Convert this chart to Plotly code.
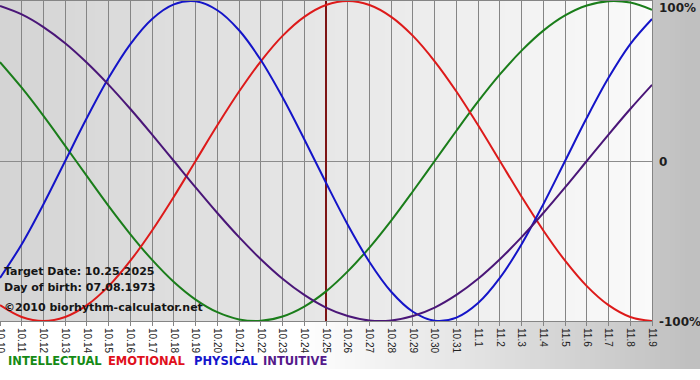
import plotly.graph_objects as go

# ---------------- data ----------------
dates = ["10.10", "10.11", "10.12", "10.13", "10.14", "10.15", "10.16", "10.17",
         "10.18", "10.19", "10.20", "10.21", "10.22", "10.23", "10.24", "10.25",
         "10.26", "10.27", "10.28", "10.29", "10.30", "10.31",
         "11.1", "11.2", "11.3", "11.4", "11.5", "11.6", "11.7", "11.8", "11.9"]

intellectual = [0.618, 0.458, 0.282, 0.095, -0.095, -0.282, -0.458, -0.618,
                -0.756, -0.866, -0.945, -0.990, -0.999, -0.972, -0.910, -0.815,
                -0.690, -0.541, -0.372, -0.189, 0.000, 0.189, 0.372, 0.541,
                0.690, 0.815, 0.910, 0.972, 0.999, 0.990, 0.945]

emotional = [-0.901, -0.975, -1.000, -0.975, -0.901, -0.782, -0.623, -0.434,
             -0.223, 0.000, 0.223, 0.434, 0.623, 0.782, 0.901, 0.975,
             1.000, 0.975, 0.901, 0.782, 0.623, 0.434, 0.223, 0.000,
             -0.223, -0.434, -0.623, -0.782, -0.901, -0.975, -1.000]

physical = [-0.731, -0.520, -0.270, 0.000, 0.270, 0.520, 0.731, 0.888,
            0.979, 0.998, 0.942, 0.817, 0.631, 0.398, 0.136, -0.136,
            -0.398, -0.631, -0.817, -0.942, -0.998, -0.979, -0.888, -0.731,
            -0.520, -0.270, 0.000, 0.270, 0.520, 0.731, 0.888]

intuitive = [0.969, 0.916, 0.837, 0.736, 0.614, 0.476, 0.325, 0.165,
             0.000, -0.165, -0.325, -0.476, -0.614, -0.736, -0.837, -0.916,
             -0.969, -0.997, -0.997, -0.969, -0.916, -0.837, -0.736, -0.614,
             -0.476, -0.325, -0.165, 0.000, 0.165, 0.325, 0.476]

target_date = "10.25"
y_labels = [("100%", 1.0), ("0", 0.0), ("-100%", -1.0)]
info_lines = ["Target Date: 10.25.2025", "Day of birth: 07.08.1973",
              "\u00a92010 biorhythm-calculator.net"]
legend_items = [("INTELLECTUAL", "#158a15"), ("EMOTIONAL", "#e0101c"),
                ("PHYSICAL", "#1515cc"), ("INTUITIVE", "#551a8b")]

series = [("INTELLECTUAL", intellectual, "#1a7d1a"),
          ("EMOTIONAL", emotional, "#dd1a1a"),
          ("PHYSICAL", physical, "#1414c8"),
          ("INTUITIVE", intuitive, "#4a1678")]

# ---------------- layout geometry ----------------
W, H = 700, 380
ML, MR, MT, MB = 0, 48, 1, 59
PW = W - ML - MR          # 652
PH = H - MT - MB          # 320
PLOT_BOTTOM = MT + PH     # 321


def px_x(x):
    return (x - ML) / PW


def px_y(y):
    return (PLOT_BOTTOM - y) / PH


fig = go.Figure()

# target date marker (drawn first so curves sit on top)
fig.add_trace(go.Scatter(x=[target_date, target_date], y=[-1.02, 1.02], mode="lines",
                         line=dict(color="#7d1414", width=2), hoverinfo="skip",
                         showlegend=False))

for name, vals, col in series:
    fig.add_trace(go.Scatter(x=dates, y=vals, mode="lines", name=name,
                             line=dict(color=col, width=2, shape="spline", smoothing=1.0),
                             showlegend=False))

shapes = []
# outer background gradient (white -> grey to the right)
step = 5
for i in range(0, W, step):
    xc = i + step / 2
    if xc < 300:
        v = 255
    else:
        v = 255 - (255 - 192) * min(1.0, (xc - 300) / 390)
    v = int(round(v))
    shapes.append(dict(type="rect", xref="paper", yref="paper",
                       x0=px_x(i), x1=px_x(i + step + 0.5), y0=px_y(369), y1=px_y(-1),
                       fillcolor=f"rgb({v},{v},{v})", line=dict(width=0), layer="below"))
# plot-area gradient (darker left -> light right)
for i in range(0, PW, step):
    xc = i + step / 2
    v = int(round(212 + (250 - 212) * xc / PW))
    shapes.append(dict(type="rect", xref="paper", yref="paper",
                       x0=px_x(i), x1=px_x(min(PW, i + step + 0.5)), y0=0, y1=1,
                       fillcolor=f"rgb({v},{v},{v})", line=dict(width=0), layer="below"))

annotations = []
for txt, yv in y_labels:
    annotations.append(dict(text=txt, xref="paper", yref="y", x=1, y=yv,
                            xanchor="left", yanchor="middle", xshift=5,
                            yshift=-7 if yv > 0 else (-1 if yv < 0 else -1),
                            showarrow=False,
                            font=dict(family="DejaVu Sans", size=12, color="#1e1e1e",
                                      weight="bold")))
for txt, yc in zip(info_lines, [271, 287, 307]):
    annotations.append(dict(text=txt, xref="paper", yref="paper", x=px_x(2), y=px_y(yc),
                            xanchor="left", yanchor="middle", showarrow=False,
                            font=dict(family="DejaVu Sans", size=11, color="#151515",
                                      weight="bold")))
for (txt, col), xl in zip(legend_items, [6, 106, 192, 261]):
    annotations.append(dict(text=txt, xref="paper", yref="paper", x=px_x(xl), y=px_y(361),
                            xanchor="left", yanchor="middle", showarrow=False,
                            font=dict(family="DejaVu Sans", size=11.5, color=col,
                                      weight="bold")))

fig.update_layout(
    width=W, height=H,
    margin=dict(l=ML, r=MR, t=MT, b=MB, pad=0),
    paper_bgcolor="white",
    plot_bgcolor="rgba(0,0,0,0)",
    showlegend=False,
    shapes=shapes,
    annotations=annotations,
    xaxis=dict(type="category", categoryorder="array", categoryarray=dates,
               range=[0, len(dates) - 1], showgrid=True, gridcolor="#858585", gridwidth=1,
               showline=True, linecolor="#858585", linewidth=1, mirror=True,
               ticks="outside", ticklen=4, tickcolor="#858585", tickangle=90,
               tickfont=dict(family="Liberation Sans", size=10, color="#222222"),
               zeroline=False, automargin=False, fixedrange=True),
    yaxis=dict(range=[-1, 1], showgrid=False, showticklabels=False, ticks="",
               zeroline=True, zerolinecolor="#8c8c8c", zerolinewidth=1,
               showline=True, linecolor="#858585", linewidth=1, mirror=True,
               automargin=False, fixedrange=True),
)

fig.write_html("out.html")
